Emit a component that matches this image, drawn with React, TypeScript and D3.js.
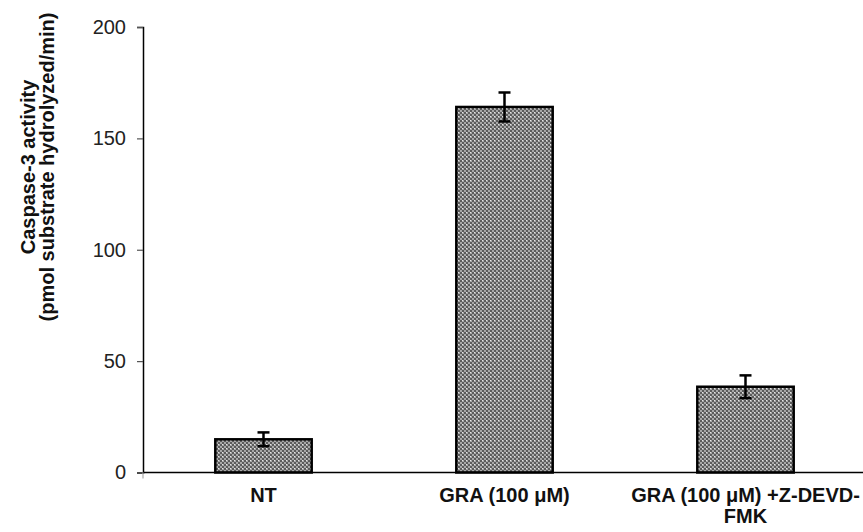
import { useEffect, useRef } from "react";
import * as d3 from "d3";

const CATEGORIES = ["NT", "GRA (100 μM)", "GRA (100 μM) +Z-DEVD-FMK"];
const CATEGORY_LINES = [["NT"], ["GRA (100 μM)"], ["GRA (100 μM) +Z-DEVD-", "FMK"]];
const VALUES = [14.9, 164.1, 38.5];
const ERRORS = [3.1, 6.5, 5.1];
const Y_TICKS = [0, 50, 100, 150, 200];
const Y_TITLE = ["Caspase-3 activity", "(pmol substrate hydrolyzed/min)"];

const WIDTH = 863;
const HEIGHT = 532;
const margin = { top: 27, left: 143, bottom: 59 };
const FONT = "Arial, 'Liberation Sans', sans-serif";

export default function App() {
  const svgRef = useRef<SVGSVGElement>(null);

  useEffect(() => {
    document.body.style.margin = "0";
    if (!svgRef.current) return;
    const svg = d3.select(svgRef.current);
    svg.selectAll("*").remove();

    const y0 = HEIGHT - margin.bottom - 0.5; // ~473
    const xScale = d3.scaleBand()
      .domain(CATEGORIES)
      .range([margin.left, margin.left + 241 * 3])
      .paddingInner(0.6)
      .paddingOuter(0.3);
    const yScale = d3.scaleLinear().domain([0, 200]).range([y0, margin.top]);

    // checkered fill
    const defs = svg.append("defs");
    const pat = defs.append("pattern")
      .attr("id", "checker")
      .attr("width", 4).attr("height", 4)
      .attr("patternUnits", "userSpaceOnUse");
    pat.append("rect").attr("width", 4).attr("height", 4).attr("fill", "#a8a8a8");
    pat.append("rect").attr("x", 0).attr("y", 0).attr("width", 2).attr("height", 2).attr("fill", "#5c5c5c");
    pat.append("rect").attr("x", 2).attr("y", 2).attr("width", 2).attr("height", 2).attr("fill", "#5c5c5c");
    pat.append("rect").attr("x", 2).attr("y", 0).attr("width", 1).attr("height", 1).attr("fill", "#e6e6e6");

    // bars
    const bw = xScale.bandwidth();
    CATEGORIES.forEach((c, i) => {
      const x = xScale(c) ?? 0;
      svg.append("rect")
        .attr("x", x)
        .attr("y", yScale(VALUES[i]))
        .attr("width", bw)
        .attr("height", y0 - yScale(VALUES[i]))
        .attr("fill", "url(#checker)")
        .attr("stroke", "#000")
        .attr("stroke-width", 2.5);
    });

    // axes
    const yAxis = svg.append("g")
      .attr("transform", `translate(${margin.left},0)`)
      .call(d3.axisLeft(yScale).tickValues(Y_TICKS).tickSize(6).tickPadding(11).tickFormat((d) => String(d)));
    yAxis.select(".domain").attr("stroke", "#000").attr("stroke-width", 1.5);
    yAxis.selectAll(".tick line").attr("stroke", "#555").attr("stroke-width", 1.2);
    yAxis.selectAll("text")
      .attr("fill", "#222")
      .attr("font-size", 20)
      .attr("font-family", FONT);

    svg.append("line")
      .attr("x1", margin.left).attr("x2", WIDTH)
      .attr("y1", y0).attr("y2", y0)
      .attr("stroke", "#000").attr("stroke-width", 1.5);
    svg.append("line")
      .attr("x1", margin.left).attr("x2", margin.left)
      .attr("y1", y0).attr("y2", y0 + 6)
      .attr("stroke", "#aaa").attr("stroke-width", 1.2);

    // error bars
    CATEGORIES.forEach((c, i) => {
      const cx = (xScale(c) ?? 0) + bw / 2;
      const top = yScale(VALUES[i] + ERRORS[i]);
      const bot = yScale(VALUES[i] - ERRORS[i]);
      const g = svg.append("g").attr("stroke", "#000").attr("stroke-width", 2.5);
      g.append("line").attr("x1", cx).attr("x2", cx).attr("y1", top).attr("y2", bot);
      g.append("line").attr("x1", cx - 6).attr("x2", cx + 6).attr("y1", top).attr("y2", top);
      g.append("line").attr("x1", cx - 6).attr("x2", cx + 6).attr("y1", bot).attr("y2", bot);
    });

    // category labels
    CATEGORIES.forEach((c, i) => {
      const cx = (xScale(c) ?? 0) + bw / 2;
      const t = svg.append("text")
        .attr("text-anchor", "middle")
        .attr("font-family", FONT)
        .attr("font-size", 20)
        .attr("font-weight", "bold")
        .attr("fill", "#111");
      CATEGORY_LINES[i].forEach((line, j) => {
        t.append("tspan").attr("x", cx).attr("y", 502 + j * 21).text(line);
      });
    });

    // y title
    const title = svg.append("text")
      .attr("transform", "translate(0,167) rotate(-90)")
      .attr("text-anchor", "middle")
      .attr("font-family", FONT)
      .attr("font-size", 20)
      .attr("font-weight", "bold")
      .attr("fill", "#111");
    Y_TITLE.forEach((line, j) => {
      title.append("tspan").attr("x", 0).attr("y", 35 + j * 19).text(line);
    });
  }, []);

  return <svg ref={svgRef} width={WIDTH} height={HEIGHT} style={{ display: "block", background: "#fff" }} />;
}
